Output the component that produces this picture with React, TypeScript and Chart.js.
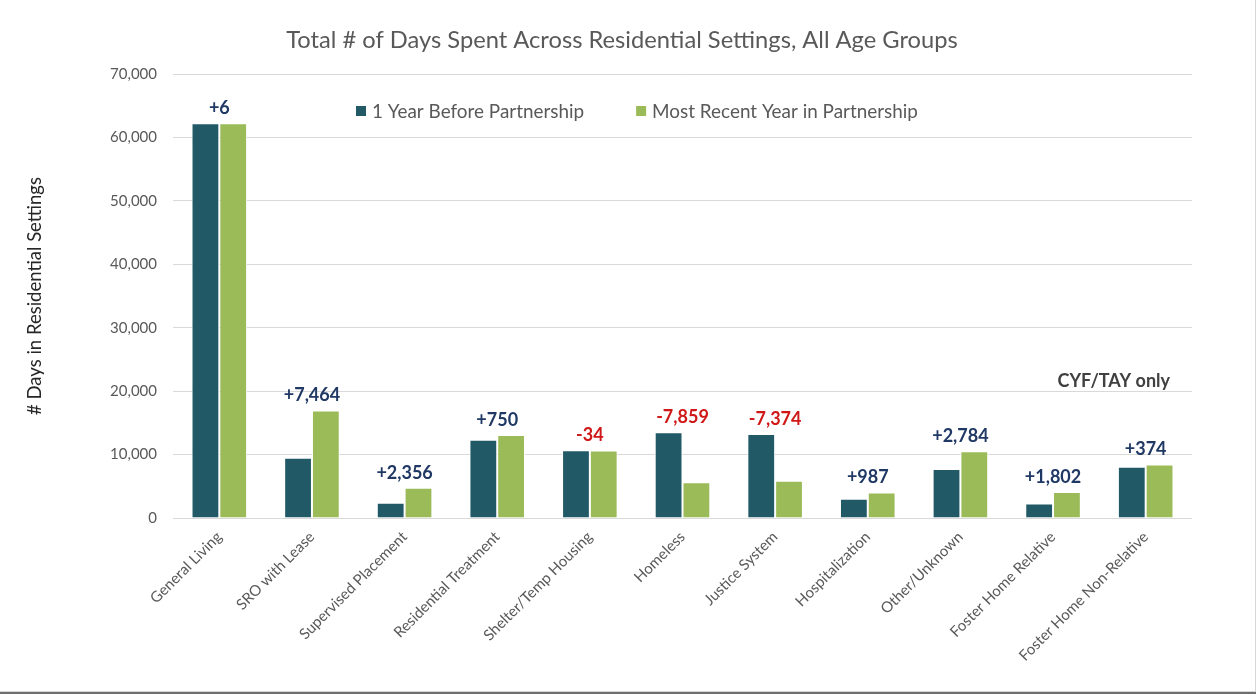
import React, { useEffect, useRef } from "react";
import { Chart, registerables } from "chart.js";

Chart.register(...registerables);

const categories = [
  "General Living",
  "SRO with Lease",
  "Supervised Placement",
  "Residential Treatment",
  "Shelter/Temp Housing",
  "Homeless",
  "Justice System",
  "Hospitalization",
  "Other/Unknown",
  "Foster Home Relative",
  "Foster Home Non-Relative",
];

const yearBefore = [62230, 9500, 2400, 12350, 10680, 13500, 13240, 3050, 7720, 2300, 8080];
const recentYear = [62236, 16964, 4756, 13100, 10646, 5641, 5866, 4037, 10504, 4102, 8454];
const changeLabels = ["+6", "+7,464", "+2,356", "+750", "-34", "-7,859", "-7,374", "+987", "+2,784", "+1,802", "+374"];

const seriesNames = ["1 Year Before Partnership", "Most Recent Year in Partnership"];
const titleText = "Total # of Days Spent Across Residential Settings, All Age Groups";
const yAxisTitle = "# Days in Residential Settings";
const noteText = "CYF/TAY only";

const FONT = "Lato";
const DARK = "#215967";
const GREEN = "#9BBB59";

const overlayPlugin = {
  id: "overlay",
  afterDraw(chart: any) {
    const ctx = chart.ctx;
    ctx.save();
    // Title
    ctx.fillStyle = "#595959";
    ctx.font = `23.7px ${FONT}`;
    ctx.textAlign = "center";
    ctx.textBaseline = "middle";
    ctx.fillText(titleText, 622, 40);

    // Legend
    ctx.font = `18.9px ${FONT}`;
    ctx.textAlign = "left";
    const legendY = 111;
    let lx = 356;
    chart.data.datasets.forEach((ds: any) => {
      ctx.fillStyle = ds.backgroundColor;
      ctx.fillRect(lx, legendY - 5, 10, 10);
      ctx.fillStyle = "#595959";
      ctx.fillText(ds.label, lx + 16, legendY + 1);
      lx += 16 + ctx.measureText(ds.label).width + 52;
    });

    // Change labels
    const m0 = chart.getDatasetMeta(0);
    const m1 = chart.getDatasetMeta(1);
    ctx.font = `bold 18px ${FONT}`;
    ctx.textAlign = "center";
    changeLabels.forEach((lab, i) => {
      const b0 = m0.data[i];
      const b1 = m1.data[i];
      const top = Math.min(b0.y, b1.y);
      const cx = (b0.x + b1.x) / 2;
      ctx.fillStyle = lab.startsWith("-") ? "#D01818" : "#1F3864";
      ctx.fillText(lab, cx, top - 15);
    });

    // Note
    ctx.font = `bold 18px ${FONT}`;
    ctx.fillStyle = "#404040";
    ctx.textAlign = "right";
    ctx.fillText(noteText, 1170, 381);

    // Frame lines
    ctx.strokeStyle = "#d6d6d6";
    ctx.lineWidth = 1;
    ctx.beginPath();
    ctx.moveTo(1255.5, 0);
    ctx.lineTo(1255.5, 692);
    ctx.moveTo(0, 691.5);
    ctx.lineTo(1256, 691.5);
    ctx.stroke();
    ctx.strokeStyle = "#6f6f6f";
    ctx.lineWidth = 2;
    ctx.beginPath();
    ctx.moveTo(0, 693);
    ctx.lineTo(1256, 693);
    ctx.stroke();
    ctx.restore();
  },
};

export default function App() {
  const ref = useRef<HTMLCanvasElement>(null);
  useEffect(() => {
    if (!ref.current) return;
    const chart = new Chart(ref.current, {
      type: "bar",
      data: {
        labels: categories,
        datasets: [
          {
            label: seriesNames[0],
            data: yearBefore,
            backgroundColor: DARK,
            borderColor: "#ffffff",
            borderWidth: 1,
          },
          {
            label: seriesNames[1],
            data: recentYear,
            backgroundColor: GREEN,
            borderColor: "#ffffff",
            borderWidth: 1,
          },
        ],
      },
      options: {
        responsive: false,
        animation: false,
        layout: { padding: { top: 74, right: 64, left: 0, bottom: 0 } },
        datasets: { bar: { categoryPercentage: 0.6, barPercentage: 1 } },
        plugins: {
          legend: { display: false },
          tooltip: { enabled: false },
          title: { display: false },
        },
        scales: {
          x: {
            grid: { display: false },
            border: { display: false },
            ticks: {
              autoSkip: false,
              maxRotation: 45,
              minRotation: 45,
              color: "#595959",
              padding: 2,
              font: { family: FONT, size: 15 },
            },
            afterFit: (s: any) => {
              s.height = 180;
            },
          },
          y: {
            min: 0,
            max: 70000,
            border: { display: false },
            grid: { color: "#d9d9d9", drawTicks: false, lineWidth: 1 },
            ticks: {
              stepSize: 10000,
              padding: 16,
              color: "#595959",
              font: { family: FONT, size: 15 },
              callback: (v: any) => Number(v).toLocaleString("en-US"),
            },
            title: {
              display: true,
              text: yAxisTitle,
              color: "#262626",
              font: { family: FONT, size: 18.5 },
              padding: { top: 24, bottom: 0 },
            },
            afterFit: (s: any) => {
              s.width = 173;
            },
          },
        },
      },
      plugins: [overlayPlugin],
    });
    return () => chart.destroy();
  }, []);
  return (
    <div style={{ position: "absolute", left: 0, top: 0, width: 1256, height: 698, background: "#fff" }}>
      <canvas ref={ref} width={1256} height={698} style={{ display: "block" }} />
    </div>
  );
}
